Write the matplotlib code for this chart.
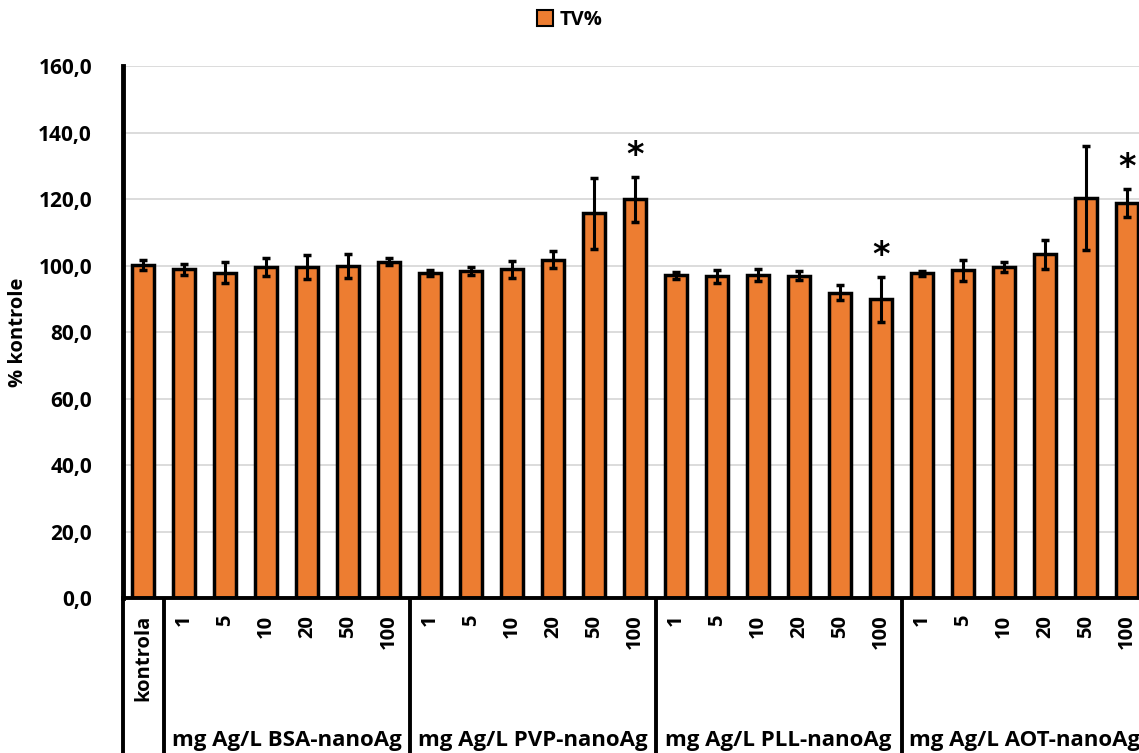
import matplotlib
matplotlib.use("Agg")
import matplotlib.pyplot as plt
from matplotlib.ticker import FuncFormatter
from matplotlib.patches import Patch

plt.rcParams['font.family'] = ['Open Sans', 'DejaVu Sans']
plt.rcParams['font.weight'] = 'bold'

tick_labels = ["kontrola",
               "1", "5", "10", "20", "50", "100",
               "1", "5", "10", "20", "50", "100",
               "1", "5", "10", "20", "50", "100",
               "1", "5", "10", "20", "50", "100"]
values = [100.2,
          98.9, 97.9, 99.7, 99.7, 99.9, 101.2,
          97.7, 98.4, 98.9, 101.9, 115.8, 120.0,
          97.2, 96.8, 97.2, 97.0, 91.9, 89.9,
          97.7, 98.6, 99.6, 103.5, 120.4, 118.9]
errors = [1.4,
          1.6, 3.2, 2.7, 3.6, 3.7, 1.05,
          0.9, 1.3, 2.5, 2.7, 10.6, 6.8,
          1.05, 1.9, 1.75, 1.3, 2.3, 6.8,
          0.65, 3.3, 1.6, 4.4, 15.7, 4.3]
significant = [12, 18, 24]
group_labels = ["mg Ag/L BSA-nanoAg", "mg Ag/L PVP-nanoAg",
                "mg Ag/L PLL-nanoAg", "mg Ag/L AOT-nanoAg"]
group_bounds = [(1, 6), (7, 12), (13, 18), (19, 24)]
series_name = "TV%"

W, H = 1139, 753
fig = plt.figure(figsize=(W / 100, H / 100), dpi=100)
ax = fig.add_axes([122.5 / W, (H - 598) / H, 25 * 41.0 / W, 531.5 / H])

x = list(range(len(values)))
ax.bar(x, values, width=0.52, color="#ED7D31", edgecolor="black", linewidth=2.5, zorder=2)
ax.errorbar(x, values, yerr=errors, fmt="none", ecolor="black", elinewidth=2.2,
            capsize=3, capthick=2.5, zorder=3)
for i in significant:
    ax.text(x[i], values[i] + errors[i] + 1.5, "*", ha="center", va="bottom",
            fontsize=24, fontweight="bold", family="DejaVu Sans")

ax.set_xlim(-0.5, len(values) - 0.5)
ax.set_ylim(0, 160)
ax.set_yticks(range(0, 161, 20))
ax.yaxis.set_major_formatter(FuncFormatter(lambda v, p: f"{v:.1f}".replace(".", ",")))
ax.tick_params(axis="y", length=0, labelsize=15, pad=22)
ax.set_xticks(x)
ax.set_xticklabels(tick_labels, rotation=90, fontsize=14.5, va="top", ha="center")
ax.tick_params(axis="x", length=0, pad=12)
for lab in ax.get_yticklabels() + ax.get_xticklabels():
    lab.set_fontweight("bold")

ax.grid(axis="y", color="#d9d9d9", linewidth=1.3, zorder=0)
ax.set_axisbelow(True)
for s in ["top", "right"]:
    ax.spines[s].set_visible(False)
ax.spines["left"].set_linewidth(3.5)
ax.spines["bottom"].set_linewidth(2.8)

ax.set_ylabel("% kontrole", fontsize=14.5, fontweight="bold")
ax.yaxis.set_label_coords(-0.092, 0.5)

trans = ax.get_xaxis_transform()
for b in [-0.5, 0.5, 6.5, 12.5, 18.5]:
    ax.plot([b, b], [0, -0.31], transform=trans, color="black", linewidth=2.8,
            clip_on=False, solid_capstyle="butt")
for (a, b), lab in zip(group_bounds, group_labels):
    ax.text((x[a] + x[b]) / 2, -0.268, lab, transform=trans, ha="center", va="center",
            fontsize=16, fontweight="bold")

fig.legend(handles=[Patch(facecolor="#ED7D31", edgecolor="black", linewidth=1.5, label=series_name)],
           loc="center", bbox_to_anchor=(0.5, 1 - 20 / H), frameon=False,
           prop={"weight": "bold", "size": 14.5}, handlelength=0.8, handleheight=0.8,
           handletextpad=0.3)

fig.savefig("out.png", dpi=100)
